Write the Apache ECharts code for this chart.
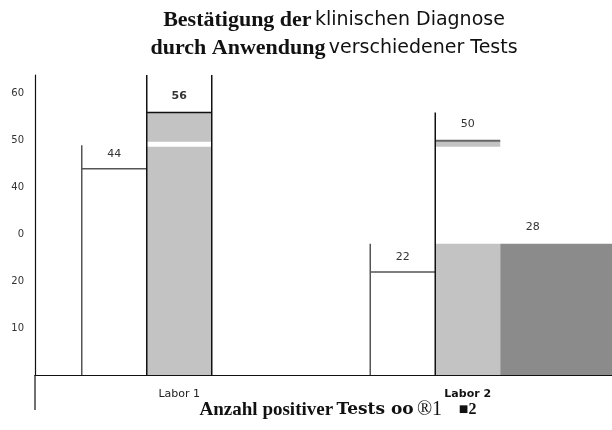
<!DOCTYPE html>
<html>
<head>
<meta charset="utf-8">
<script src="https://cdn.jsdelivr.net/npm/echarts@6/dist/echarts.min.js"></script>
<style>
  html, body { margin: 0; padding: 0; background: #fff; }
  #main { width: 612px; height: 430px; }
</style>
</head>
<body>
<div id="main"></div>
<script>
// Labor-Vergleich: positive Tests je Labor
var categories = ['Labor 1', 'Labor 2'];
var seriesNames = ['oo', '®1', '■2'];
var whiteVals = [44, 22];      // Serie oo
var lightVals = [56, 28];      // Serie ®1
var darkVals = [null, 28];     // Serie ■2
var whiteEdgeTop = [49, 28];   // linke Kante reicht höher
var lightEdgeTop = [64, 56];   // Trennlinien
var markVals = [50, 50];       // Streifen / Balkenstück bei 50
var yTickLabels = ['', '10', '20', '0', '40', '50', '60'];

var LIGHT = '#c3c3c3', DARK = '#8b8b8b';
var myChart = echarts.init(document.getElementById('main'));

function renderItem(params, api) {
    var i = params.dataIndex;
    var band = api.size([1, 0])[0];
    var bw = band * 0.2253;
    var base = api.coord([i, 0]);
    var x0 = base[0] - bw * 1.5;
    var y0 = base[1];
    var yOf = function (v) { return api.coord([i, v])[1]; };
    var kids = [];
    var line = function (x1, y1, x2, y2, c, w) {
        kids.push({ type: 'line', shape: { x1: x1, y1: y1, x2: x2, y2: y2 }, style: { stroke: c, lineWidth: w } });
    };
    var label = function (t, x, y, bold) {
        kids.push({ type: 'text', style: { text: t, x: x, y: y, align: 'center', verticalAlign: 'middle',
            font: (bold ? 'bold ' : '') + '11px "DejaVu Sans"', fill: '#333' } });
    };
    var w = api.value(1), l = api.value(2), d = api.value(3), m = markVals[i];

    // weisser Balken
    kids.push({ type: 'rect', shape: { x: x0, y: yOf(w), width: bw, height: y0 - yOf(w) }, style: { fill: '#fff' } });
    line(x0, yOf(whiteEdgeTop[i]), x0, y0, '#555', 1.5);
    line(x0, yOf(w), x0 + bw, yOf(w), '#555', 1.5);
    label(String(w), x0 + bw / 2, yOf(w) - 15, false);

    // hellgrauer Balken
    var x1 = x0 + bw;
    kids.push({ type: 'rect', shape: { x: x1, y: yOf(l), width: bw, height: y0 - yOf(l) }, style: { fill: LIGHT } });
    if (m < l) {
        kids.push({ type: 'rect', shape: { x: x1, y: yOf(m) + 1, width: bw, height: 5 }, style: { fill: '#fff' } });
        line(x1, yOf(l), x1 + bw, yOf(l), '#111', 1.5);
    } else {
        kids.push({ type: 'rect', shape: { x: x1, y: yOf(m), width: bw, height: 6 }, style: { fill: LIGHT } });
        line(x1, yOf(m), x1 + bw, yOf(m), '#666', 2);
    }
    line(x1, yOf(lightEdgeTop[i]), x1, y0, '#111', 1.5);
    if (d == null || isNaN(d)) line(x1 + bw, yOf(lightEdgeTop[i]), x1 + bw, y0, '#111', 1.5);
    var top = Math.max(l, m);
    label(String(top), x1 + bw / 2, yOf(top) - 16, i === 0);

    // dunkelgrauer Balken
    if (d != null && !isNaN(d)) {
        var x2 = x1 + bw;
        kids.push({ type: 'rect', shape: { x: x2, y: yOf(d), width: bw * 1.72, height: y0 - yOf(d) }, style: { fill: DARK } });
        label(String(d), x2 + bw / 2, yOf(d) - 17, false);
    }
    return { type: 'group', children: kids };
}

option = {
    animation: false,
    grid: { left: 35, right: 0, top: 75, bottom: 55 },
    xAxis: {
        type: 'category',
        data: categories,
        axisLine: { lineStyle: { color: '#111', width: 1.2 } },
        axisTick: { show: false },
        axisLabel: {
            margin: 14,
            fontFamily: 'DejaVu Sans',
            fontSize: 11,
            color: '#222',
            formatter: function (v, idx) { return idx === 1 ? '{b|' + v + '}' : v; },
            rich: { b: { fontWeight: 'bold', fontFamily: 'DejaVu Sans', fontSize: 11, color: '#111' } }
        }
    },
    yAxis: {
        type: 'value',
        min: 0,
        max: 64,
        interval: 10,
        splitLine: { show: false },
        axisTick: { show: false },
        axisLine: { show: true, lineStyle: { color: '#111', width: 1.2 } },
        axisLabel: {
            margin: 11,
            fontFamily: 'DejaVu Sans',
            fontSize: 10,
            color: '#333',
            showMaxLabel: false,
            formatter: function (v) { return v % 10 === 0 ? (yTickLabels[v / 10] || '') : ''; }
        }
    },
    graphic: [
        { type: 'line', shape: { x1: 35, y1: 375, x2: 35, y2: 410 }, style: { stroke: '#111', lineWidth: 1.2 } },
        {
            type: 'text', x: 334, y: 6,
            style: {
                text: '{b|Bestätigung der} {n|klinischen Diagnose}\n{b|durch Anwendung} {n|verschiedener Tests}',
                align: 'center',
                rich: {
                    b: { font: 'bold 22px "Liberation Serif"', fill: '#111', lineHeight: 28 },
                    n: { font: '19px "DejaVu Sans"', fill: '#111', lineHeight: 28 }
                }
            }
        },
        {
            type: 'text', x: 338, y: 410,
            style: {
                text: '{a|Anzahl positiver} {t|Tests oo} {c|®1}     {d|■2}',
                align: 'center',
                verticalAlign: 'middle',
                rich: {
                    a: { font: 'bold 19px "Liberation Serif"', fill: '#111' },
                    t: { font: 'bold 17px "DejaVu Serif"', fill: '#111' },
                    c: { font: '20px "Liberation Serif"', fill: '#111' },
                    d: { font: 'bold 16px "Liberation Serif"', fill: '#111' }
                }
            }
        }
    ],
    series: [{
        type: 'custom',
        name: seriesNames.join(' '),
        renderItem: renderItem,
        data: categories.map(function (c, i) {
            return [i, whiteVals[i], lightVals[i], darkVals[i] == null ? NaN : darkVals[i]];
        })
    }]
};
myChart.setOption(option);
</script>
</body>
</html>
